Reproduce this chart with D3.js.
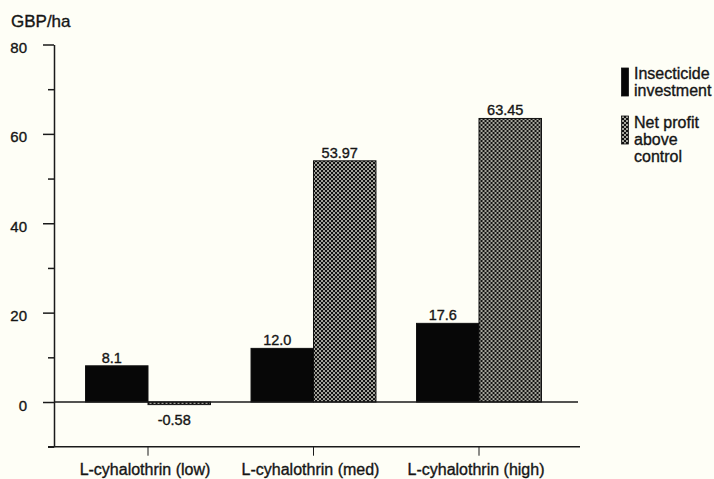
<!DOCTYPE html>
<html>
<head>
<meta charset="utf-8">
<script src="https://cdn.jsdelivr.net/npm/d3@7"></script>
<style>
  html, body { margin: 0; padding: 0; background: #fefef6; }
  svg { display: block; }
  text { font-family: "Liberation Sans", Arial, sans-serif; fill: #151515; stroke: #151515; stroke-width: 0.35px; }
</style>
</head>
<body>
<script>
// Chart data
const categories = ["L-cyhalothrin (low)", "L-cyhalothrin (med)", "L-cyhalothrin (high)"];
const seriesKeys = ["investment", "profit"];
const insecticideInvestment = [8.1, 12.0, 17.6];
const netProfitAboveControl = [-0.58, 53.97, 63.45];
const legendLines = [["Insecticide", "investment"], ["Net profit", "above", "control"]];
const majorTicks = [0, 20, 40, 60, 80];
const minorTicks = [-10, 10, 30, 50, 70];
const yUnit = "GBP/ha";

const W = 714, H = 479;
const svg = d3.select("body").append("svg").attr("width", W).attr("height", H);

// Checkerboard fill for the profit series
const defs = svg.append("defs");
function checker(id) {
  const p = defs.append("pattern").attr("id", id)
    .attr("patternUnits", "userSpaceOnUse").attr("width", 4).attr("height", 4);
  p.append("rect").attr("width", 4).attr("height", 4).attr("fill", "#a4a49c");
  p.append("rect").attr("width", 2).attr("height", 2).attr("fill", "#111");
  p.append("rect").attr("x", 2).attr("y", 2).attr("width", 2).attr("height", 2).attr("fill", "#111");
}
checker("chk");
const fills = { investment: "#070707", profit: "url(#chk)" };

// Scales
const y = d3.scaleLinear().domain([-10, 80]).range([446.7, 44.5]);
const x0 = d3.scaleBand().domain(categories).range([65.25, 561.75])
  .paddingInner(0.245).paddingOuter(0.1225);
const x1 = d3.scaleBand().domain(seriesKeys).range([0, x0.bandwidth()]);

const rows = categories.map((c, i) => ({
  cat: c,
  values: [
    { key: "investment", v: insecticideInvestment[i], label: insecticideInvestment[i].toFixed(1) },
    { key: "profit", v: netProfitAboveControl[i], label: String(netProfitAboveControl[i]) }
  ]
}));

// Bars
const groups = svg.append("g").selectAll("g").data(rows).join("g")
  .attr("transform", d => `translate(${x0(d.cat)},0)`);

groups.selectAll("rect").data(d => d.values).join("rect")
  .attr("x", d => x1(d.key))
  .attr("y", d => y(Math.max(0, d.v)))
  .attr("width", x1.bandwidth())
  .attr("height", d => Math.abs(y(d.v) - y(0)))
  .attr("fill", d => fills[d.key])
  .attr("stroke", "#111").attr("stroke-width", 1);

// Value labels
groups.selectAll("text.val").data(d => d.values).join("text")
  .attr("class", "val")
  .attr("x", d => x1(d.key) + x1.bandwidth() / 2 - 5)
  .attr("y", d => d.v >= 0 ? y(d.v) - 3 : y(d.v) + 20)
  .attr("text-anchor", "middle")
  .attr("font-size", 14.5)
  .text(d => d.label);

// Zero line
svg.append("line")
  .attr("x1", 54).attr("x2", 578).attr("y1", y(0)).attr("y2", y(0))
  .attr("stroke", "#1a1a1a").attr("stroke-width", 1.5);

// Y axis: major ticks with labels, minor ticks without
const yAxis = svg.append("g").attr("transform", "translate(54,0)")
  .call(d3.axisLeft(y).tickValues(majorTicks).tickSize(11).tickSizeOuter(0).tickPadding(16));
yAxis.select(".domain").attr("stroke", "#1a1a1a").attr("stroke-width", 1.5);
yAxis.selectAll(".tick line").attr("stroke", "#1a1a1a").attr("stroke-width", 1.5);
yAxis.selectAll(".tick text")
  .attr("font-size", 15).attr("dy", null).attr("y", 8)
  .attr("font-family", "'Liberation Sans', Arial, sans-serif").attr("fill", "#151515");

const yMinor = svg.append("g").attr("transform", "translate(54,0)")
  .call(d3.axisLeft(y).tickValues(minorTicks).tickSize(6).tickFormat(""));
yMinor.select(".domain").remove();
yMinor.selectAll(".tick line").attr("stroke", "#1a1a1a").attr("stroke-width", 1.5);

// Bottom axis with category labels
svg.append("line")
  .attr("x1", 48).attr("x2", 580).attr("y1", y(-10)).attr("y2", y(-10))
  .attr("stroke", "#1a1a1a").attr("stroke-width", 1.5);
const xAxis = svg.append("g").attr("transform", `translate(0,${y(-10)})`)
  .call(d3.axisBottom(x0).tickSize(9).tickSizeOuter(0).tickPadding(8));
xAxis.select(".domain").remove();
xAxis.selectAll(".tick line").attr("stroke", "#1a1a1a").attr("stroke-width", 1);
xAxis.selectAll(".tick text")
  .attr("font-size", 16).attr("dx", -3)
  .attr("font-family", "'Liberation Sans', Arial, sans-serif").attr("fill", "#151515");

// Unit label
svg.append("text").attr("x", 11).attr("y", 27).attr("font-size", 17).text(yUnit);

// Legend
const legend = svg.append("g");
const legendY = [68, 116];
const legendTextY = [79, 128];
seriesKeys.forEach((k, i) => {
  legend.append("rect")
    .attr("x", 621.5).attr("y", legendY[i]).attr("width", 7).attr("height", 28)
    .attr("fill", fills[k]).attr("stroke", "#111").attr("stroke-width", 0.8);
  legend.append("text")
    .attr("x", 634).attr("y", legendTextY[i]).attr("font-size", 16)
    .selectAll("tspan").data(legendLines[i]).join("tspan")
    .attr("x", 634).attr("dy", (d, j) => j === 0 ? 0 : 17)
    .text(d => d);
});
</script>
</body>
</html>
